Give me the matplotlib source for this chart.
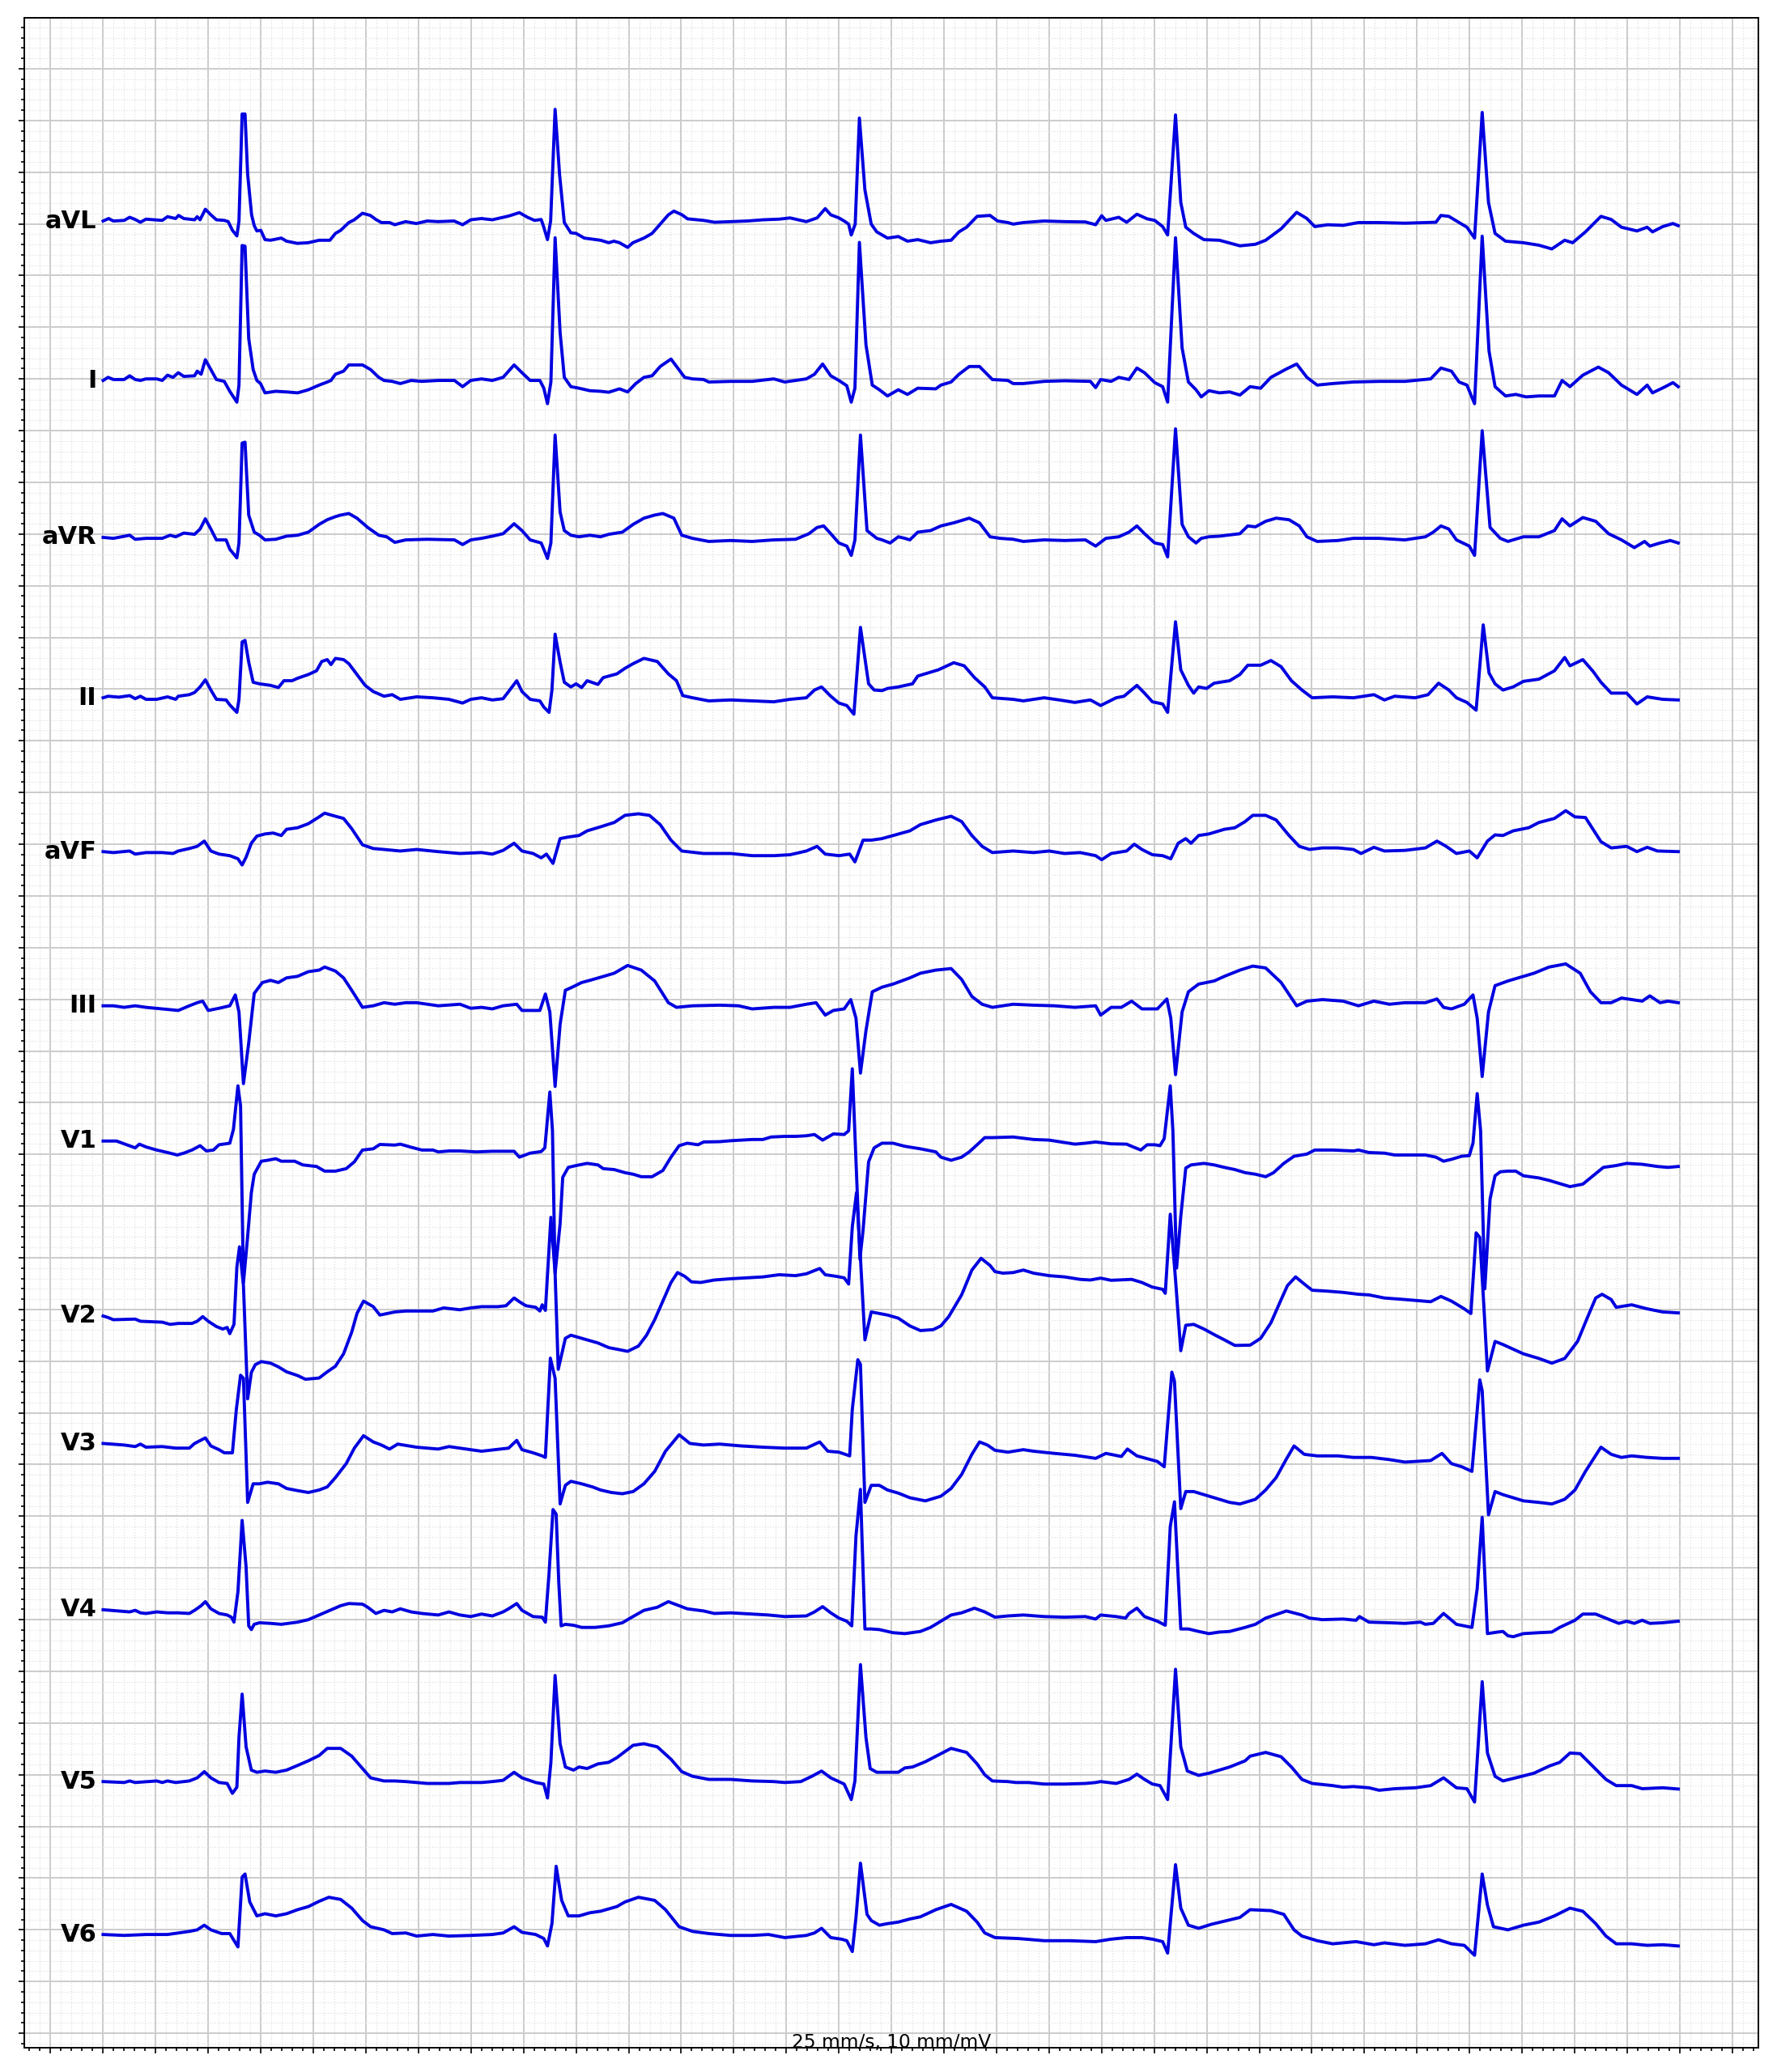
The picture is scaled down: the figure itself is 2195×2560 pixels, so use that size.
import numpy as np
import matplotlib
matplotlib.use("Agg")
import matplotlib.pyplot as plt
from matplotlib.ticker import MultipleLocator

# lead order (Cabrera) and row offsets in mV
leads = ["aVL", "I", "aVR", "II", "aVF", "III", "V1", "V2", "V3", "V4", "V5", "V6"]
row_offsets = [0, -1.5, -3, -4.5, -6, -7.5, -9, -10.5, -12, -13.5, -15, -16.5]

# traces as (time ms, amplitude uV), read from the strip
avl = [(0,27),(21,51),(39,27),(80,33),(101,63),(122,42),(142,15),(163,45),(225,33),(245,69),
       (276,51),(287,81),(307,51),(348,39),(358,69),(369,39),(389,141),(410,87),(431,39),(461,33),
       (476,21),(492,-63),(509,-117),(517,27),(529,1062),(540,1062),(550,477),(565,87),(575,-18),(585,-69),
       (600,-63),(616,-153),(637,-159),(678,-138),(698,-168),(739,-189),(780,-183),(822,-159),(863,-159),(884,-93),
       (904,-63),(935,12),(956,39),(987,102),(1017,81),(1038,42),(1059,12),(1090,12),(1110,-9),(1151,21),
       (1192,3),(1233,27),(1275,21),(1336,27),(1368,-9),(1399,39),(1440,51),(1481,39),(1543,75),(1584,108),
       (1615,63),(1642,33),(1667,42),(1677,-33),(1691,-153),(1703,27),(1720,1107),(1737,477),(1755,12),(1780,-87),
       (1800,-93),(1831,-138),(1893,-159),(1924,-183),(1944,-168),(1965,-183),(1996,-228),(2016,-183),(2058,-138),(2089,-93),
       (2120,-3),(2151,87),(2172,123),(2203,87),(2224,48),(2285,33),(2327,15),(2388,21),(2450,27),(2512,39),
       (2573,45),(2614,57),(2676,21),(2717,57),(2748,147),(2769,87),(2800,57),(2820,27),(2837,-3),(2847,-108),
       (2862,-3),(2878,1023),(2899,327),(2923,-3),(2944,-78),(2985,-138),(3026,-123),
       (3061,-168),(3100,-153),(3149,-183),(3188,-168),(3227,-159),(3257,-78),(3286,-33),(3326,72),(3375,81),(3404,27),
       (3443,12),(3463,-3),(3502,12),(3581,27),(3659,21),(3738,18),(3777,-9),(3800,78),(3816,33),(3865,63),
       (3895,15),(3934,93),(3973,48),(4002,33),(4032,-27),(4051,-108),(4081,1053),(4101,207),(4120,-33),(4150,-93),
       (4189,-153),(4248,-159),(4326,-213),(4385,-198),(4424,-159),(4483,-48),(4542,111),(4581,51),(4611,-27),(4660,-9),
       (4719,-15),(4777,12),(4856,12),(4954,6),(5072,15),(5091,81),(5121,72),(5170,-3),(5190,-33),(5219,-138),
       (5248,1077),(5272,207),(5297,-93),(5337,-168),(5405,-183),(5464,-207),(5513,-243),(5562,-159),(5592,-183),(5641,-78),
       (5700,72),(5739,42),(5778,-33),(5837,-69),(5876,-33),(5896,-78),(5935,-27),(5974,3),(5994,-18)]

lead_i = [(0,-15),(19,15),(39,-6),(80,-6),(101,30),(122,-6),(142,-15),(163,0),(204,0),(225,-15),
          (245,36),(266,15),(286,60),(307,24),(348,30),(358,75),(373,45),(389,186),(410,90),(431,-6),
          (461,-24),(482,-120),(509,-225),(517,-60),(529,1290),(540,1284),(554,390),(571,90),(585,-15),(599,-45),
          (616,-135),(657,-120),(698,-126),(740,-135),(781,-105),(822,-60),(853,-30),(867,-15),(884,45),(915,75),
          (935,135),(987,135),(1018,90),(1049,15),(1069,-15),(1100,-24),(1131,-45),(1172,-15),(1213,-24),(1275,-15),
          (1337,-15),(1368,-75),(1399,-15),(1440,0),(1481,-15),(1522,15),(1564,135),(1594,60),(1625,-15),(1662,-15),
          (1677,-90),(1691,-240),(1704,-30),(1720,1365),(1739,450),(1755,15),(1780,-75),(1811,-90),(1852,-114),(1893,-120),
          (1924,-129),(1965,-96),(1996,-126),(2027,-45),(2058,15),(2089,30),(2120,120),(2161,192),(2182,120),(2213,15),
          (2243,0),(2285,-6),(2305,-30),(2388,-24),(2470,-24),(2552,0),(2594,-30),(2635,-15),(2676,0),(2707,45),
          (2738,144),(2769,30),(2800,-15),(2830,-66),(2847,-225),(2861,-90),(2878,1320),(2903,330),(2927,-60),(2954,-105),
          (2985,-165),(3026,-105),
          (3061,-150),(3100,-90),(3169,-96),(3188,-60),(3227,-30),(3257,45),(3296,120),(3335,120),(3384,-6),(3443,-15),
          (3463,-45),(3502,-45),(3581,-24),(3659,-18),(3757,-24),(3777,-84),(3796,-6),(3836,-24),(3865,15),(3904,-6),
          (3934,105),(3963,60),(4002,-36),(4032,-75),(4051,-225),(4081,1365),(4106,300),(4130,-30),(4159,-105),(4179,-174),
          (4208,-114),(4248,-135),(4287,-126),(4326,-156),(4365,-75),(4405,-90),(4444,15),(4503,96),(4542,144),(4581,15),
          (4620,-60),(4679,-45),(4758,-30),(4856,-24),(4954,-24),(5052,0),(5091,105),(5131,75),(5160,-30),(5190,-60),
          (5219,-240),(5248,1380),(5274,270),(5297,-75),(5337,-165),(5376,-150),(5415,-174),(5464,-165),(5523,-165),(5552,-15),
          (5582,-75),(5631,36),(5690,114),(5729,60),(5778,-60),(5837,-150),(5876,-60),(5896,-135),(5945,-75),(5974,-36),
          (5994,-75)]

avr = [(0,-33),(39,-42),(101,-12),(122,-51),(163,-42),(225,-42),(255,-12),(276,-27),(307,9),(348,-3),
       (369,48),(389,147),(410,48),(431,-57),(468,-57),(482,-147),(509,-231),(517,-87),(529,879),(540,888),
       (554,183),(575,18),(595,-12),(616,-57),(657,-51),(698,-21),(740,-12),(781,18),(822,93),(853,138),
       (884,168),(904,183),(935,198),(966,153),(1007,63),(1049,-12),(1079,-27),(1110,-81),(1152,-57),(1234,-51),
       (1337,-57),(1368,-102),(1399,-57),(1440,-42),(1481,-21),(1522,3),(1564,99),(1594,33),(1625,-57),(1667,-87),
       (1677,-147),(1691,-237),(1704,-87),(1720,957),(1739,213),(1755,33),(1780,-12),(1811,-27),(1852,-12),(1893,-27),
       (1924,-3),(1976,18),(2017,93),(2058,153),(2099,183),(2130,198),(2172,153),(2202,-12),(2243,-42),(2305,-72),
       (2388,-63),(2470,-72),(2552,-57),(2635,-51),(2686,3),(2717,63),(2742,78),(2769,3),(2800,-87),(2830,-117),
       (2847,-207),(2861,-57),(2882,957),(2907,33),(2944,-42),(2964,-57),(2995,-87),(3026,-27),
       (3051,-42),(3070,-57),(3100,18),(3149,33),(3188,78),(3237,108),(3296,153),(3335,108),(3375,-27),(3414,-42),
       (3463,-51),(3502,-72),(3581,-57),(3659,-63),(3738,-57),(3777,-117),(3816,-42),(3865,-27),(3904,18),(3934,78),
       (3963,3),(4002,-87),(4032,-102),(4051,-222),(4081,1017),(4106,93),(4130,-27),(4159,-87),(4179,-42),(4208,-27),
       (4248,-21),(4326,3),(4356,78),(4385,69),(4424,123),(4464,153),(4513,138),(4552,78),(4581,-27),(4620,-72),
       (4699,-63),(4758,-42),(4856,-42),(4954,-57),(5032,-27),(5062,18),(5091,78),(5121,48),(5150,-57),(5199,-117),
       (5219,-207),(5248,999),(5278,63),(5317,-42),(5346,-72),(5405,-27),(5464,-27),(5523,33),(5552,147),(5582,78),
       (5631,159),(5680,123),(5729,3),(5778,-57),(5827,-132),(5866,-72),(5886,-117),(5925,-87),(5964,-63),(5994,-87)]

lead_ii = [(0,-84),(19,-69),(60,-78),(101,-63),(122,-93),(142,-69),(163,-99),(204,-99),(245,-75),(276,-99),
           (286,-69),(328,-54),(348,-33),(369,21),(389,90),(410,-9),(431,-99),(468,-105),(482,-153),(509,-225),
           (517,-99),(529,456),(540,471),(554,261),(571,66),(595,51),(637,36),(667,15),(688,81),(719,81),
           (740,105),(781,141),(812,177),(832,267),(853,285),(867,237),(884,297),(915,285),(935,246),(966,141),
           (997,36),(1028,-24),(1069,-69),(1100,-54),(1131,-99),(1193,-75),(1255,-84),(1316,-99),(1368,-135),(1399,-99),
           (1440,-84),(1481,-105),(1522,-93),(1543,-24),(1574,81),(1594,-24),(1625,-99),(1662,-114),(1677,-174),(1697,-225),
           (1708,-9),(1720,531),(1739,261),(1755,66),(1780,21),(1800,51),(1821,15),(1842,81),(1883,45),(1903,111),
           (1955,147),(1986,201),(2017,246),(2058,297),(2109,267),(2151,147),(2182,81),(2206,-63),(2243,-84),(2305,-114),
           (2388,-105),(2470,-114),(2552,-123),(2614,-99),(2676,-84),(2707,-9),(2734,21),(2769,-69),(2800,-135),(2830,-159),
           (2857,-243),(2882,597),(2913,51),(2934,-9),(2964,-15),(2985,6),(3026,21),
           (3080,51),(3100,126),(3139,156),(3178,186),(3237,255),(3277,225),(3316,111),(3355,21),(3384,-84),(3463,-99),
           (3502,-114),(3581,-84),(3639,-105),(3698,-129),(3757,-105),(3796,-159),(3855,-84),(3885,-69),(3934,36),(3963,-39),
           (3993,-123),(4032,-144),(4051,-225),(4081,651),(4101,186),(4130,36),(4150,-39),(4169,21),(4199,6),(4228,57),
           (4287,81),(4326,141),(4356,231),(4405,231),(4444,276),(4483,216),(4522,81),(4562,-9),(4601,-84),(4679,-75),
           (4758,-84),(4836,-54),(4876,-105),(4915,-69),(4993,-84),(5042,-54),(5082,57),(5121,-9),(5150,-84),(5190,-129),
           (5225,-204),(5252,621),(5274,156),(5297,51),(5327,-9),(5366,21),(5405,75),(5464,96),(5523,177),(5562,306),
           (5582,225),(5631,285),(5670,171),(5700,66),(5739,-39),(5798,-39),(5837,-144),(5876,-75),(5935,-99),(5994,-105)]

avf = [(0,-72),(39,-81),(101,-66),(122,-96),(163,-81),(225,-81),(266,-90),(286,-66),(328,-42),(358,-21),
       (385,30),(410,-66),(441,-96),(482,-111),(513,-141),(529,-201),(544,-126),(564,9),(585,78),(616,99),
       (647,108),(678,84),(698,144),(740,159),(781,198),(822,264),(843,300),(884,270),(915,249),(946,150),
       (987,-6),(1028,-42),(1069,-51),(1131,-66),(1193,-51),(1275,-72),(1358,-90),(1440,-81),(1481,-96),(1522,-60),
       (1564,9),(1594,-66),(1636,-90),(1667,-132),(1687,-96),(1712,-186),(1739,54),(1770,69),(1811,84),(1842,129),
       (1893,168),(1945,210),(1986,279),(2037,294),(2079,279),(2120,189),(2161,39),(2202,-66),(2285,-90),(2388,-90),
       (2470,-111),(2552,-111),(2614,-102),(2676,-66),(2717,-21),(2748,-96),(2800,-111),(2841,-96),(2861,-171),(2892,39),
       (2923,39),(2964,54),(3006,84),
       (3070,129),(3110,189),(3169,234),(3227,270),(3267,219),(3306,84),(3345,-21),(3384,-81),(3463,-66),(3541,-81),
       (3600,-66),(3659,-90),(3718,-81),(3777,-111),(3800,-150),(3836,-90),(3895,-66),(3924,0),(3953,-51),(3993,-102),
       (4032,-111),(4063,-141),(4091,9),(4120,54),(4140,9),(4169,84),(4208,99),(4267,144),(4307,159),(4346,219),
       (4375,279),(4424,279),(4464,234),(4513,84),(4552,-21),(4591,-51),(4640,-36),(4699,-36),(4758,-51),(4787,-90),
       (4836,-30),(4876,-66),(4954,-60),(5032,-36),(5076,30),(5111,-21),(5150,-90),(5199,-66),(5229,-132),(5268,30),
       (5297,90),(5327,84),(5366,129),(5425,159),(5464,210),(5523,249),(5566,324),(5601,264),(5641,258),(5700,24),
       (5739,-36),(5798,-21),(5837,-72),(5876,-30),(5915,-66),(5994,-72)]

lead_iii = [(0,-63),(39,-63),(80,-78),(122,-63),(163,-78),(225,-93),(286,-108),(328,-63),(358,-33),(379,-18),
            (400,-108),(441,-87),(482,-63),(503,42),(517,-123),(534,-816),(554,-423),(575,57),(606,162),(637,183),
            (667,162),(698,207),(740,222),(781,267),(822,282),(843,312),(884,273),(915,207),(946,87),(987,-78),
            (1028,-63),(1069,-33),(1110,-48),(1152,-33),(1193,-33),(1275,-63),(1358,-48),(1399,-87),(1440,-78),(1481,-93),
            (1522,-63),(1574,-48),(1594,-108),(1662,-108),(1683,51),(1700,-123),(1720,-843),(1739,-243),(1759,87),(1790,123),
            (1821,162),(1852,183),(1893,213),(1945,252),(1996,327),(2048,282),(2099,177),(2151,-33),(2182,-78),(2243,-63),
            (2346,-57),(2418,-63),(2470,-93),(2552,-78),(2614,-78),(2676,-48),(2713,-33),(2748,-153),(2779,-108),(2820,-93),
            (2845,-3),(2865,-183),(2882,-714),(2903,-303),(2927,72),(2964,117),(3006,147),
            (3070,207),(3110,252),(3169,282),(3227,297),(3267,192),(3306,27),(3345,-48),(3384,-78),(3463,-48),(3541,-57),
            (3620,-63),(3698,-78),(3777,-63),(3796,-153),(3836,-78),(3875,-78),(3914,-18),(3953,-93),(4012,-93),(4048,3),
            (4063,-183),(4081,-729),(4106,-123),(4130,72),(4169,147),(4228,177),(4267,222),(4326,282),(4375,321),(4424,303),
            (4483,162),(4542,-63),(4581,-18),(4640,-3),(4719,-18),(4777,-63),(4836,-18),(4895,-48),(4954,-33),(5032,-33),
            (5076,3),(5101,-78),(5131,-93),(5180,-48),(5213,42),(5229,-183),(5248,-747),(5272,-123),(5297,132),(5346,177),
            (5386,207),(5445,252),(5503,312),(5566,342),(5621,252),(5660,72),(5700,-33),(5739,-33),(5778,12),(5817,-3),
            (5857,-18),(5886,33),(5925,-33),(5955,-18),(5994,-33)]

v1 = [(0,129),(51,129),(80,102),(122,63),(138,99),(163,72),(204,42),(245,18),(282,-6),(307,12),
      (338,42),(369,84),(393,33),(420,42),(441,93),(482,108),(496,243),(513,663),(523,468),(534,-1242),
      (550,-792),(564,-372),(575,-192),(602,-66),(626,-57),(657,-42),(678,-66),(729,-66),(760,-102),(812,-117),
      (843,-162),(884,-162),(925,-138),(956,-72),(987,42),(1028,54),(1053,96),(1110,90),(1131,99),(1172,69),
      (1213,42),(1255,42),(1275,24),(1316,33),(1358,33),(1420,24),(1481,30),(1564,30),(1584,-27),(1625,12),
      (1667,27),(1681,63),(1700,603),(1710,228),(1720,-1152),(1739,-672),(1749,-222),(1770,-126),(1800,-108),(1842,-87),
      (1883,-102),(1903,-138),(1945,-147),(1986,-177),(2017,-192),(2048,-216),(2089,-216),(2130,-156),(2161,-27),(2192,84),
      (2223,108),(2264,93),(2285,120),(2346,123),(2388,132),(2429,138),(2470,144),(2511,144),(2542,168),(2594,174),
      (2635,174),(2676,180),(2707,192),(2738,138),(2779,198),(2820,192),(2837,228),(2851,828),(2880,-1014),(2892,-732),
      (2913,-72),(2934,63),(2964,108),(3006,108),
      (3051,78),(3110,54),(3169,24),(3188,-27),(3227,-57),(3267,-27),(3296,24),(3326,93),(3355,162),(3384,162),
      (3463,168),(3541,144),(3600,138),(3659,114),(3698,99),(3738,108),(3777,120),(3836,102),(3895,99),(3914,78),
      (3949,42),(3973,93),(4002,93),(4022,84),(4038,153),(4061,663),(4071,228),(4085,-1100),(4101,-600),(4120,-132),
      (4140,-102),(4189,-87),(4228,-102),(4267,-126),(4307,-147),(4346,-177),(4385,-192),(4424,-216),(4454,-177),(4493,-87),
      (4532,-18),(4581,3),(4611,42),(4679,42),(4758,33),(4777,42),(4817,18),(4876,12),(4915,-6),(4954,-6),
      (5032,-6),(5072,-27),(5101,-66),(5131,-48),(5170,-18),(5199,-12),(5213,108),(5229,588),(5242,228),(5258,-1300),
      (5278,-432),(5297,-207),(5317,-168),(5346,-162),(5376,-162),(5405,-207),(5464,-228),(5503,-252),(5543,-282),(5582,-312),
      (5631,-288),(5670,-207),(5709,-126),(5758,-108),(5798,-87),(5857,-96),(5915,-117),(5955,-126),(5994,-117)]

v2 = [(0,-63),(19,-78),(39,-99),(122,-93),(142,-114),(225,-123),(255,-144),(286,-135),(338,-135),(358,-114),
      (379,-69),(400,-114),(431,-165),(455,-189),(472,-174),(482,-234),(498,-144),(509,411),(519,606),(534,231),
      (550,-864),(564,-609),(579,-534),(602,-504),(637,-519),(667,-555),(698,-603),(740,-639),(770,-675),(822,-663),
      (853,-603),(884,-549),(915,-429),(946,-219),(966,-39),(991,81),(1028,27),(1053,-54),(1110,-24),(1152,-15),
      (1255,-15),(1296,15),(1358,-3),(1399,15),(1440,27),(1502,27),(1533,36),(1564,111),(1584,75),(1609,36),
      (1646,21),(1662,-15),(1671,45),(1683,-9),(1704,891),(1720,351),(1732,-579),(1759,-279),(1780,-249),(1821,-279),
      (1842,-294),(1883,-324),(1924,-369),(1955,-384),(1996,-405),(2037,-354),(2068,-249),(2099,-99),(2130,81),(2161,261),
      (2186,357),(2213,321),(2239,267),(2274,261),(2326,285),(2388,297),(2449,306),(2511,315),(2573,336),(2635,327),
      (2676,345),(2727,396),(2748,336),(2789,321),(2820,306),(2837,246),(2851,800),(2867,1130),(2882,501),(2899,-294),
      (2923,-24),(2954,-39),(2985,-54),(3026,-84),
      (3070,-159),(3110,-204),(3159,-195),(3188,-159),(3218,-69),(3267,141),(3306,381),(3341,495),(3375,426),(3394,366),
      (3424,351),(3463,357),(3502,381),(3541,351),(3600,327),(3659,315),(3718,291),(3757,285),(3796,303),(3836,282),
      (3914,291),(3953,261),(3993,216),(4032,195),(4042,156),(4061,921),(4081,291),(4101,-399),(4120,-153),(4150,-144),
      (4189,-189),(4228,-243),(4267,-294),(4307,-348),(4365,-345),(4405,-279),(4444,-129),(4483,96),(4507,231),(4538,315),
      (4571,246),(4601,186),(4660,177),(4719,165),(4777,147),(4817,141),(4876,111),(4954,96),(5052,75),(5091,126),
      (5131,81),(5180,6),(5205,-39),(5225,741),(5239,696),(5252,141),(5268,-594),(5297,-309),(5327,-339),(5366,-384),
      (5405,-429),(5464,-474),(5513,-519),(5562,-474),(5611,-309),(5650,-69),(5680,111),(5704,147),(5739,96),(5758,21),
      (5817,45),(5876,6),(5935,-24),(5994,-33)]

v3 = [(0,204),(80,189),(122,174),(142,198),(163,168),(225,174),(276,159),(328,159),(348,204),(389,258),
      (410,180),(441,144),(461,114),(492,114),(507,534),(523,864),(534,834),(550,-366),(571,-186),(595,-186),
      (626,-171),(667,-186),(698,-231),(740,-252),(781,-270),(822,-246),(853,-216),(884,-126),(925,9),(956,159),
      (991,279),(1028,219),(1059,189),(1090,150),(1121,198),(1193,168),(1275,150),(1316,174),(1399,144),(1440,129),
      (1512,150),(1543,159),(1574,234),(1594,144),(1636,114),(1671,84),(1683,69),(1702,1029),(1720,834),(1739,-381),
      (1759,-201),(1780,-162),(1821,-186),(1862,-216),(1893,-246),(1934,-270),(1976,-282),(2017,-261),(2058,-186),(2099,-66),
      (2140,129),(2192,288),(2233,204),(2285,189),(2346,198),(2429,180),(2511,168),(2594,159),(2676,159),(2727,219),
      (2758,129),(2800,120),(2841,84),(2851,534),(2872,1014),(2882,969),(2899,-366),(2923,-201),(2954,-201),(2985,-246),
      (3026,-276),
      (3070,-321),(3129,-351),(3188,-306),(3227,-231),(3267,-96),(3306,99),(3335,219),(3365,189),(3394,138),(3443,120),
      (3502,144),(3541,129),(3620,108),(3698,90),(3777,60),(3816,108),(3875,78),(3898,150),(3934,84),(4012,30),
      (4038,-21),(4067,894),(4077,804),(4101,-426),(4120,-261),(4150,-261),(4189,-291),(4228,-321),(4287,-366),(4326,-381),
      (4385,-336),(4424,-246),(4464,-126),(4503,54),(4532,180),(4571,99),(4620,84),(4699,84),(4758,69),(4826,69),
      (4895,48),(4954,24),(5052,39),(5095,108),(5131,9),(5170,-21),(5209,-66),(5239,819),(5248,714),(5272,-486),
      (5297,-261),(5327,-291),(5366,-321),(5405,-351),(5464,-366),(5513,-381),(5562,-336),(5601,-246),(5641,-66),(5700,168),
      (5739,99),(5778,69),(5817,84),(5876,69),(5935,60),(5994,60)]

v4 = [(0,96),(60,84),(101,75),(122,90),(142,66),(163,60),(204,75),(245,66),(286,66),(328,60),
      (348,90),(373,135),(389,174),(410,105),(441,60),(472,45),(488,24),(498,-24),(513,270),(529,960),
      (544,510),(554,-60),(564,-96),(575,-45),(595,-30),(637,-36),(678,-45),(740,-24),(781,0),(822,45),
      (863,90),(904,135),(935,156),(987,150),(1007,120),(1038,60),(1069,90),(1100,75),(1131,105),(1172,75),
      (1213,60),(1275,45),(1316,75),(1358,45),(1399,30),(1440,54),(1481,36),(1522,75),(1543,105),(1574,156),
      (1594,90),(1636,30),(1671,24),(1683,-24),(1697,450),(1712,1065),(1724,1020),(1734,360),(1743,-60),(1759,-45),
      (1790,-54),(1821,-75),(1872,-75),(1924,-60),(1976,-30),(2006,15),(2058,90),(2109,120),(2151,174),(2182,144),
      (2223,105),(2285,84),(2326,60),(2388,66),(2470,54),(2532,45),(2594,30),(2676,36),(2707,75),(2738,126),
      (2769,66),(2800,15),(2830,-15),(2849,-60),(2865,810),(2882,1260),(2899,-90),(2923,-90),(2954,-96),(3006,-126),
      (3051,-135),(3110,-114),(3149,-75),(3188,-15),(3227,45),(3267,66),(3316,111),(3355,75),(3394,24),(3443,36),
      (3502,45),(3581,30),(3659,24),(3738,30),(3777,6),(3796,45),(3855,30),(3891,15),(3904,60),(3934,111),
      (3963,30),(4012,-15),(4042,-54),(4061,900),(4077,1140),(4101,-90),(4130,-90),(4169,-114),(4208,-135),(4248,-120),
      (4287,-114),(4346,-75),(4385,-45),(4424,15),(4483,66),(4503,84),(4562,45),(4591,15),(4640,0),(4719,6),
      (4768,-6),(4781,30),(4817,-24),(4895,-30),(4954,-36),(5013,-24),(5032,-45),(5062,-36),(5101,60),(5150,-45),
      (5209,-75),(5229,300),(5248,990),(5268,-135),(5307,-120),(5327,-114),(5346,-156),(5366,-165),(5405,-135),(5464,-126),
      (5513,-120),(5543,-75),(5601,-6),(5631,54),(5680,54),(5739,-6),(5768,-36),(5798,-15),(5827,-36),(5857,-6),
      (5886,-36),(5935,-30),(5994,-15)]

v5 = [(0,-66),(80,-75),(101,-60),(122,-75),(204,-60),(225,-75),(245,-60),(276,-75),(328,-60),(358,-30),
      (385,30),(410,-30),(441,-75),(472,-84),(492,-180),(509,-120),(517,360),(529,780),(544,270),(564,45),
      (585,24),(616,36),(657,24),(698,45),(740,90),(781,135),(822,186),(853,255),(904,255),(946,180),
      (987,60),(1018,-30),(1069,-60),(1110,-60),(1152,-66),(1234,-84),(1316,-84),(1358,-75),(1440,-75),(1481,-66),
      (1522,-54),(1564,24),(1594,-30),(1646,-75),(1677,-90),(1691,-225),(1704,120),(1720,960),(1739,300),(1759,75),
      (1790,45),(1811,75),(1842,60),(1883,105),(1924,120),(1955,165),(1986,225),(2017,285),(2058,300),(2109,270),
      (2161,150),(2202,30),(2243,-15),(2305,-45),(2388,-45),(2470,-60),(2552,-66),(2594,-75),(2655,-66),(2697,-15),
      (2734,36),(2769,-30),(2820,-90),(2847,-240),(2861,-60),(2882,1065),(2903,360),(2919,60),(2944,24),(2985,24),
      (3026,24),
      (3051,66),(3080,75),(3129,126),(3188,204),(3227,255),(3286,216),(3326,105),(3355,0),(3384,-60),(3443,-66),
      (3473,-75),(3522,-75),(3581,-90),(3659,-90),(3738,-84),(3777,-75),(3796,-66),(3855,-84),(3904,-45),(3934,6),
      (3963,-45),(3993,-90),(4022,-105),(4051,-240),(4081,1020),(4101,270),(4126,36),(4169,-6),(4208,15),(4248,45),
      (4287,75),(4346,135),(4365,180),(4424,216),(4483,174),(4522,75),(4562,-45),(4601,-84),(4679,-105),(4719,-120),
      (4758,-114),(4817,-126),(4856,-150),(4915,-135),(4993,-126),(5052,-105),(5101,-30),(5150,-126),(5190,-135),(5219,-264),
      (5248,900),(5268,210),(5297,-15),(5327,-60),(5366,-36),(5445,15),(5503,84),(5543,120),(5582,210),(5621,204),
      (5660,105),(5719,-45),(5758,-105),(5817,-105),(5857,-135),(5935,-126),(5994,-138)]

v6 = [(0,-45),(80,-54),(163,-45),(245,-45),(328,-15),(358,0),(385,45),(410,0),(451,-36),(482,-36),
      (513,-165),(529,510),(540,540),(558,270),(585,135),(616,156),(657,135),(698,156),(740,195),(781,225),
      (822,276),(859,315),(904,294),(946,210),(987,90),(1018,30),(1069,0),(1100,-36),(1152,-30),(1193,-60),
      (1255,-45),(1316,-60),(1399,-54),(1481,-45),(1522,-30),(1564,30),(1594,-24),(1646,-45),(1677,-84),(1691,-156),
      (1708,60),(1724,615),(1745,285),(1770,135),(1811,135),(1852,165),(1893,180),(1955,225),(1986,270),(2037,315),
      (2099,285),(2140,195),(2192,30),(2243,-15),(2305,-36),(2388,-54),(2470,-54),(2532,-45),(2594,-75),(2676,-54),
      (2707,-30),(2734,15),(2769,-75),(2810,-90),(2830,-105),(2851,-210),(2865,120),(2882,645),(2907,150),(2923,90),
      (2954,45),(2985,60),(3026,75),
      (3070,105),(3110,126),(3169,195),(3227,246),(3286,180),(3326,75),(3355,-30),(3394,-75),(3483,-84),(3581,-105),
      (3679,-105),(3777,-114),(3836,-90),(3895,-75),(3953,-75),(3993,-90),(4032,-114),(4051,-225),(4081,630),(4101,210),
      (4130,45),(4169,15),(4218,54),(4267,84),(4326,120),(4365,195),(4444,186),(4493,150),(4532,0),(4562,-60),
      (4620,-105),(4679,-135),(4768,-114),(4836,-144),(4876,-126),(4954,-150),(5032,-135),(5082,-96),(5131,-135),(5180,-150),
      (5219,-246),(5248,540),(5268,240),(5291,30),(5346,0),(5405,45),(5464,75),(5523,135),(5582,210),(5631,180),
      (5680,60),(5719,-60),(5758,-135),(5817,-135),(5876,-150),(5935,-144),(5994,-156)]

traces = [avl, lead_i, avr, lead_ii, avf, lead_iii, v1, v2, v3, v4, v5, v6]

fig = plt.figure(figsize=(10.975, 12.8), dpi=200)
ax = fig.add_axes([0.01367, 0.01172, 0.97599, 0.97957])

# ecg paper grid: 0.2 s / 0.5 mV major, 0.04 s / 0.1 mV minor
ax.xaxis.set_major_locator(MultipleLocator(0.2))
ax.xaxis.set_minor_locator(MultipleLocator(0.04))
ax.yaxis.set_major_locator(MultipleLocator(0.5))
ax.yaxis.set_minor_locator(MultipleLocator(0.1))
ax.grid(which="major", color="#cccccc", linewidth=0.7)
ax.grid(which="minor", color="#e0e0e0", linewidth=0.45, linestyle=":")
ax.set_axisbelow(True)
ax.tick_params(which="both", labelbottom=False, labelleft=False, width=0.6)
ax.tick_params(which="major", length=2.6)
ax.tick_params(which="minor", length=1.5)
for sp in ax.spines.values():
    sp.set_linewidth(0.7)

for name, off, tr in zip(leads, row_offsets, traces):
    arr = np.array(tr, dtype=float)
    t = arr[:, 0] / 1000.0
    v = arr[:, 1] / 1000.0 + off
    ax.plot(t, v, color="#0000e0", linewidth=1.4, solid_joinstyle="round")
    ax.text(-0.025, v[0], name, ha="right", va="center", fontsize=11, fontweight="bold")

ax.set_xlim(-0.3, 6.3)
ax.set_ylim(-17.64, 1.99)

ax.text(0.5, 0.0, "25 mm/s, 10 mm/mV", transform=ax.transAxes,
        ha="center", va="baseline", fontsize=8.4)

fig.savefig("out.png", dpi=200)
